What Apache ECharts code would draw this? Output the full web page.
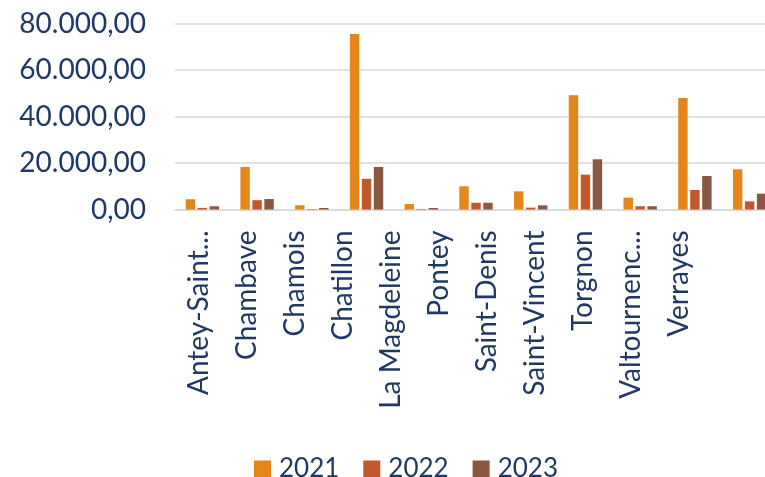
<!DOCTYPE html>
<html>
<head>
<meta charset="utf-8">
<script src="https://cdn.jsdelivr.net/npm/echarts@6/dist/echarts.min.js"></script>
<style>
  html, body { margin: 0; padding: 0; background: #ffffff; }
  #chart { width: 765px; height: 477px; }
</style>
</head>
<body>
<div id="chart"></div>
<script>
// Comuni and yearly amounts
const comuni = ['Antey-Saint-André', 'Chambave', 'Chamois', 'Chatillon', 'La Magdeleine',
  'Pontey', 'Saint-Denis', 'Saint-Vincent', 'Torgnon', 'Valtournenche', 'Verrayes'];
const years = ['2021', '2022', '2023'];
const values2021 = [4400, 18300, 1800, 75500, 2350, 10000, 7800, 49100, 5100, 48000, 17300];
const values2022 = [700, 4000, 200, 13200, 200, 2900, 800, 15000, 1400, 8400, 3500];
const values2023 = [1400, 4500, 650, 18300, 650, 2900, 1800, 21600, 1400, 14400, 6800];
const yTicks = [0, 20000, 40000, 60000, 80000];

const navy = '#1F3864';
const colors = ['#E6851A', '#C0582B', '#8A5740'];
const font = 'Lato';

// Italian number format: thousands with '.', decimals with ','
function fmt(v) {
  const parts = v.toFixed(2).split('.');
  parts[0] = parts[0].replace(/\B(?=(\d{3})+(?!\d))/g, '.');
  return parts[0] + ',' + parts[1];
}

const chart = echarts.init(document.getElementById('chart'), null, { renderer: 'canvas' });

const seriesData = [values2021, values2022, values2023];

chart.setOption({
  animation: false,
  backgroundColor: '#ffffff',
  textStyle: { fontFamily: font },
  legend: {
    data: years,
    left: 249,
    top: 451,
    itemWidth: 17,
    itemHeight: 17,
    itemGap: 24,
    icon: 'rect',
    textStyle: { fontFamily: font, fontSize: 26, color: navy, padding: [0, 0, 0, 3] }
  },
  // bars run slightly past the right edge of the canvas
  grid: [
    { left: 175, width: 602, top: 23.5, bottom: 267.5, outerBoundsMode: 'none', containLabel: false },
    { left: 175, width: 528, top: 23.5, bottom: 267.5, outerBoundsMode: 'none', containLabel: false }
  ],
  xAxis: [
    {
      type: 'category',
      gridIndex: 0,
      data: comuni,
      axisLine: { lineStyle: { color: '#D9D9D9', width: 1.5 } },
      axisTick: { show: false },
      axisLabel: { show: false }
    },
    {
      type: 'category',
      gridIndex: 1,
      data: comuni,
      axisLine: { show: false },
      axisTick: { show: false },
      axisLabel: {
        rotate: 90,
        margin: 21,
        interval: 0,
        fontFamily: font,
        fontSize: 28,
        color: navy,
        width: 179.6,
        overflow: 'truncate',
        ellipsis: '...'
      }
    }
  ],
  yAxis: [
    {
      type: 'value',
      gridIndex: 0,
      min: yTicks[0],
      max: yTicks[yTicks.length - 1],
      interval: yTicks[1] - yTicks[0],
      axisLine: { show: false },
      axisTick: { show: false },
      splitLine: { lineStyle: { color: '#D9D9D9', width: 1.5 } },
      axisLabel: {
        margin: 29,
        fontFamily: font,
        fontSize: 28,
        color: navy,
        formatter: fmt
      }
    },
    {
      type: 'value',
      gridIndex: 1,
      show: false,
      min: 0,
      max: 1,
      splitLine: { show: false }
    }
  ],
  series: years.map((y, i) => ({
    name: y,
    type: 'bar',
    xAxisIndex: 0,
    yAxisIndex: 0,
    data: seriesData[i],
    barGap: '27%',
    barCategoryGap: '39%',
    itemStyle: { color: colors[i] }
  }))
});
</script>
</body>
</html>
